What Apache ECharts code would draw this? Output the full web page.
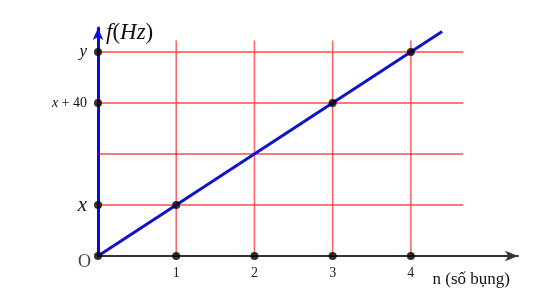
<!DOCTYPE html>
<html>
<head>
<meta charset="utf-8">
<script src="https://cdn.jsdelivr.net/npm/echarts@6/dist/echarts.min.js"></script>
<style>html,body{margin:0;padding:0;background:#fff;}#c{width:551px;height:300px;}</style>
</head>
<body>
<div id="c"></div>
<script>
// Data (f in Hz-units with x = 20, so x+40 = 60, y = 80)
const nValues = [1, 2, 3, 4];
const fLevels = [20, 40, 60, 80];
const fLabels = ['x', '', 'x + 40', 'y'];
const linePoints = [[0, 0], [4.4, 88]];
const markedPoints = [[1, 20], [3, 60], [4, 80]];
const axisDots = [[0, 20], [0, 60], [0, 80]];
const gridTopF = 84.5;
const gridRightN = 4.67;

const serif = '"Liberation Serif", "DejaVu Serif", serif';
const chart = echarts.init(document.getElementById('c'));

const series = [];
// vertical red guide lines
nValues.forEach(n => {
  series.push({type: 'line', data: [[n, 0], [n, gridTopF]], symbol: 'none', silent: true,
    lineStyle: {color: '#ff5f5f', width: 1.5}, z: 1});
});
// horizontal guide lines
fLevels.forEach((f, i) => {
  series.push({type: 'line', data: [[0, f], [gridRightN, f]], symbol: 'none', silent: true,
    lineStyle: {color: i === 1 ? '#d40000' : '#ff4a4a', width: i === 1 ? 1.2 : 1.5}, z: 1});
});
// blue line f = n * f0
series.push({type: 'line', data: linePoints, symbol: 'none', silent: true,
  lineStyle: {color: '#1212cc', width: 3}, z: 3});
// dots
series.push({type: 'scatter', symbolSize: 8, itemStyle: {color: '#000'}, z: 5, silent: true,
  data: markedPoints.concat(axisDots, nValues.map(n => [n, 0]))});
series.push({type: 'scatter', symbolSize: 8, itemStyle: {color: '#000'}, z: 5, silent: true,
  data: [[0, 0]],
  label: {show: true, formatter: 'O', position: [-16, 1], fontFamily: serif, fontSize: 18, color: '#111'}});

chart.setOption({
  animation: false,
  backgroundColor: '#fff',
  grid: {left: 98, right: 33, top: 28, bottom: 44, containLabel: false, outerBoundsMode: 'none'},
  xAxis: {
    type: 'value', min: 0, max: 5.37, interval: 1,
    axisLine: {show: true, onZero: false, symbol: ['none', 'arrow'], symbolSize: [8, 13], symbolOffset: [0, 0],
      lineStyle: {color: '#333', width: 2}},
    axisTick: {show: false},
    splitLine: {show: false},
    axisLabel: {margin: 10, fontFamily: serif, fontSize: 14, color: '#222',
      formatter: v => (nValues.indexOf(v) >= 0 ? String(v) : '')},
    name: 'n (số bụng)', nameLocation: 'end', nameGap: -8,
    nameTextStyle: {fontFamily: serif, fontSize: 17, color: '#111', align: 'right', verticalAlign: 'top', lineHeight: 48}
  },
  yAxis: {
    type: 'value', min: 0, max: 89.4, interval: 20,
    axisLine: {show: true, onZero: false, symbol: ['none', 'arrow'], symbolSize: [8, 12], symbolOffset: [0, 0],
      lineStyle: {color: '#0a0ae6', width: 3}},
    axisTick: {show: false},
    splitLine: {show: false},
    axisLabel: {margin: 11, fontFamily: serif, color: '#222',
      formatter: v => {
        const i = fLevels.indexOf(v);
        if (i < 0 || !fLabels[i]) return '';
        const s = fLabels[i];
        if (s === 'x') return '{big|x}';
        if (s === 'y') return '{mid|y}';
        return '{it|x}{n| + 40}';
      },
      rich: {
        big: {fontFamily: serif, fontStyle: 'italic', fontSize: 21, color: '#111'},
        mid: {fontFamily: serif, fontStyle: 'italic', fontSize: 17, color: '#111'},
        it: {fontFamily: serif, fontStyle: 'italic', fontSize: 14, color: '#111'},
        n: {fontFamily: serif, fontSize: 14, color: '#111'}
      }
    },
    name: '{i|f}{p|(}{i|Hz}{p|)}', nameLocation: 'end', nameGap: -5,
    nameTextStyle: {align: 'left', verticalAlign: 'middle', padding: [0, 0, 0, 8],
      rich: {
        i: {fontFamily: serif, fontStyle: 'italic', fontSize: 23, color: '#111'},
        p: {fontFamily: serif, fontSize: 23, color: '#111'}
      }}
  },
  series: series
});
</script>
</body>
</html>
